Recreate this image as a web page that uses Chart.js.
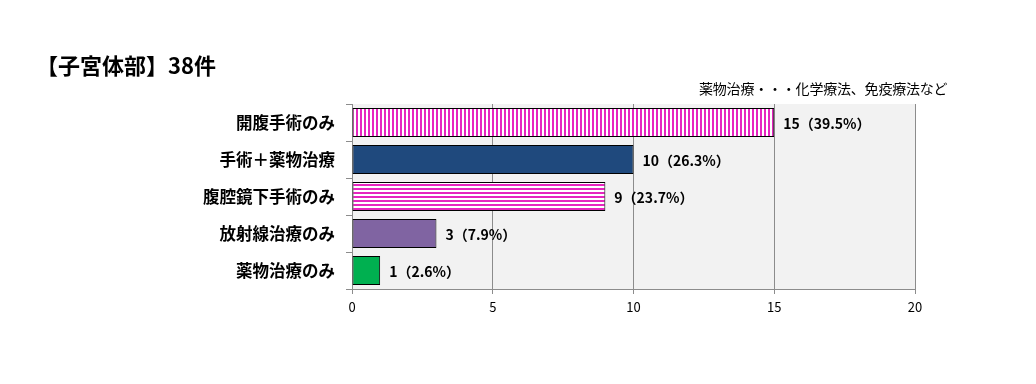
<!DOCTYPE html>
<html>
<head>
<meta charset="utf-8">
<script src="https://cdn.jsdelivr.net/npm/chart.js@4"></script>
<style>
  html, body { margin: 0; padding: 0; background: #fff; }
  #wrap { position: relative; width: 1036px; height: 384px; }
  #title { position: absolute; left: 36px; top: 48px; font: bold 22px "Noto Sans CJK JP"; color: #000; white-space: nowrap; }
  #note { position: absolute; left: 699px; top: 78px; font: 14px "Noto Sans CJK JP"; color: #000; white-space: nowrap; letter-spacing: -0.2px; }
  canvas { position: absolute; left: 0; top: 0; }
</style>
</head>
<body>
<div id="wrap">
  <canvas id="myChart" width="1036" height="384"></canvas>
  <div id="title">【子宮体部】38件</div>
  <div id="note">薬物治療・・・化学療法、免疫療法など</div>
</div>
<script>
// data
const categories = ["開腹手術のみ", "手術＋薬物治療", "腹腔鏡下手術のみ", "放射線治療のみ", "薬物治療のみ"];
const counts = [15, 10, 9, 3, 1];
const percents = ["39.5%", "26.3%", "23.7%", "7.9%", "2.6%"];
const xTicks = [0, 5, 10, 15, 20];

const FONT = '"Noto Sans CJK JP", "Noto Sans", sans-serif';
const pink = "#e624c0";

function stripes(vertical) {
  const c = document.createElement("canvas");
  c.width = 4; c.height = 4;
  const g = c.getContext("2d");
  g.fillStyle = "#fff";
  g.fillRect(0, 0, 4, 4);
  g.fillStyle = pink;
  if (vertical) g.fillRect(0, 0, 2, 4);
  else g.fillRect(0, 0, 4, 2);
  return g.createPattern(c, "repeat");
}

const ctx = document.getElementById("myChart");

const bgPlugin = {
  id: "plotBg",
  beforeDraw(chart) {
    const { ctx, chartArea: a } = chart;
    ctx.save();
    ctx.fillStyle = "#f2f2f2";
    ctx.fillRect(a.left, a.top, a.right - a.left, a.bottom - a.top);
    ctx.restore();
  }
};

const labelPlugin = {
  id: "barLabels",
  afterDatasetsDraw(chart) {
    const { ctx } = chart;
    const meta = chart.getDatasetMeta(0);
    ctx.save();
    ctx.font = "bold 14px " + FONT;
    ctx.fillStyle = "#000";
    ctx.textBaseline = "middle";
    meta.data.forEach((bar, i) => {
      ctx.fillText(counts[i] + "（" + percents[i] + "）", bar.x + 9, bar.y + 1);
    });
    ctx.restore();
  }
};

new Chart(ctx, {
  type: "bar",
  data: {
    labels: categories,
    datasets: [
      {
        data: counts,
        backgroundColor: [stripes(true), "#1f497d", stripes(false), "#8064a2", "#00b050"],
        borderColor: "#000",
        borderWidth: 1,
        borderSkipped: false,
        categoryPercentage: 1,
        barPercentage: 0.79,
      },
    ],
  },
  plugins: [bgPlugin, labelPlugin],
  options: {
    indexAxis: "y",
    responsive: false,
    animation: false,
    layout: { padding: { top: 104, right: 121, left: 0, bottom: 0 } },
    plugins: { legend: { display: false }, tooltip: { enabled: false } },
    scales: {
      x: {
        min: 0,
        max: 20,
        afterBuildTicks(scale) { scale.ticks = xTicks.map(v => ({ value: v })); },
        afterFit(scale) { scale.height = 95; },
        grid: { color: "#8c8c8c", tickLength: 5 },
        border: { color: "#8c8c8c" },
        ticks: { color: "#000", padding: 5, font: { family: FONT, size: 13 } },
      },
      y: {
        afterFit(scale) { scale.width = 352; },
        grid: { drawOnChartArea: false, color: "#8c8c8c", tickLength: 6, offset: true },
        border: { color: "#8c8c8c" },
        ticks: { color: "#000", padding: 11, font: { family: FONT, size: 16.5, weight: "bold" } },
      },
    },
  },
});
</script>
</body>
</html>
